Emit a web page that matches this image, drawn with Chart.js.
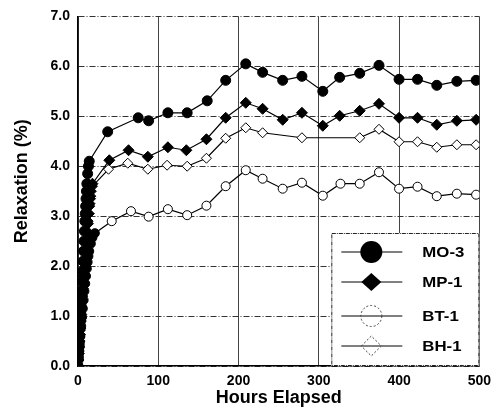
<!DOCTYPE html>
<html>
<head>
<meta charset="utf-8">
<script src="https://cdn.jsdelivr.net/npm/chart.js@4/dist/chart.umd.min.js"></script>
<style>
  html, body { margin: 0; padding: 0; background: #fff; }
  canvas { display: block; }
</style>
</head>
<body>
<canvas id="c" width="498" height="409"></canvas>
<script>
// ---- Data ----
const seriesNames = ['MO-3', 'MP-1', 'BT-1', 'BH-1'];

const mo3Hours = [0, 0.5, 1, 1.5, 2, 2.5, 3, 3.5, 4, 4.5, 5, 5.5, 6, 6.5, 7, 7.5, 8, 8.5, 9, 9.5, 10, 10.5, 11, 12, 13, 14,
  37, 75, 88, 112, 136, 161, 184, 209, 230, 255, 279, 305, 326, 351, 375, 400, 423, 447, 472, 496];
const mo3Values = [0, 0.15, 0.3, 0.45, 0.6, 0.75, 0.9, 1.05, 1.2, 1.35, 1.5, 1.7, 1.9, 2.1, 2.3, 2.5, 2.7, 2.9, 3.05, 3.2, 3.35, 3.5, 3.65, 3.85, 4.0, 4.1,
  4.69, 4.97, 4.91, 5.07, 5.07, 5.31, 5.72, 6.05, 5.88, 5.72, 5.80, 5.50, 5.78, 5.86, 6.02, 5.74, 5.74, 5.62, 5.70, 5.72];

const mp1Hours = [0, 0.5, 1, 1.5, 2, 2.5, 3, 3.5, 4, 4.5, 5, 6, 7, 8, 9, 10, 11, 12, 13, 14, 15, 16, 18,
  39, 63, 87, 112, 135, 160, 184, 209, 230, 255, 279, 305, 326, 351, 375, 400, 423, 447, 472, 496];
const mp1Values = [0, 0.12, 0.25, 0.38, 0.5, 0.63, 0.76, 0.9, 1.03, 1.16, 1.3, 1.55, 1.8, 2.05, 2.3, 2.5, 2.7, 2.9, 3.05, 3.2, 3.35, 3.5, 3.65,
  4.12, 4.32, 4.19, 4.38, 4.32, 4.54, 4.97, 5.27, 5.15, 4.93, 5.07, 4.81, 5.01, 5.11, 5.25, 4.97, 4.97, 4.83, 4.91, 4.93];

const bt1Hours = [0, 0.5, 1, 1.5, 2, 3, 4, 5, 6, 7, 8, 9, 10, 11, 12, 13, 14, 16, 18, 21,
  42, 66, 88, 112, 136, 160, 184, 209, 230, 255, 279, 305, 327, 351, 375, 400, 423, 447, 472, 496];
const bt1Values = [0, 0.1, 0.2, 0.3, 0.4, 0.6, 0.8, 0.98, 1.15, 1.32, 1.5, 1.65, 1.8, 1.95, 2.08, 2.2, 2.3, 2.45, 2.57, 2.66,
  2.90, 3.10, 2.99, 3.14, 3.02, 3.21, 3.60, 3.92, 3.75, 3.55, 3.67, 3.41, 3.65, 3.65, 3.88, 3.55, 3.59, 3.40, 3.45, 3.43];

const bh1Hours = [0, 0.5, 1, 1.5, 2, 3, 4, 5, 6, 7, 8, 9, 10, 11, 12, 13, 14, 15, 16, 18,
  38, 62, 87, 111, 136, 160, 184, 209, 230, 279, 351, 375, 400, 423, 447, 472, 496];
const bh1Values = [0, 0.12, 0.24, 0.36, 0.48, 0.72, 0.95, 1.18, 1.4, 1.62, 1.84, 2.05, 2.25, 2.45, 2.65, 2.85, 3.05, 3.25, 3.4, 3.6,
  3.94, 4.06, 3.94, 4.02, 4.00, 4.16, 4.56, 4.77, 4.67, 4.57, 4.57, 4.74, 4.49, 4.49, 4.38, 4.43, 4.43];

const xTickLabels = ['0', '100', '200', '300', '400', '500'];
const yTickLabels = ['0.0', '1.0', '2.0', '3.0', '4.0', '5.0', '6.0', '7.0'];

// ---- Build ----
function pts(h, v) { return h.map((x, i) => ({ x: x, y: v[i] })); }

const FONT = '"Liberation Sans", Arial, sans-serif';

// open markers inside the dense start-up cluster print as solid black in the reference
const openFill = (c) => (c.raw && c.raw.x < 22 && c.raw.y > 0.5) ? '#000' : '#fff';

const datasets = [
  { label: seriesNames[0], data: pts(mo3Hours, mo3Values), pointStyle: 'circle', pointRadius: 5,
    pointBackgroundColor: '#000' },
  { label: seriesNames[1], data: pts(mp1Hours, mp1Values), pointStyle: 'rectRot', pointRadius: 5.5,
    pointBackgroundColor: '#000' },
  { label: seriesNames[2], data: pts(bt1Hours, bt1Values), pointStyle: 'circle', pointRadius: 4.5,
    pointBackgroundColor: openFill },
  { label: seriesNames[3], data: pts(bh1Hours, bh1Values), pointStyle: 'rectRot', pointRadius: 5,
    pointBackgroundColor: openFill }
].map(d => Object.assign(d, {
  showLine: true, borderWidth: 1.2, borderColor: '#000', backgroundColor: '#000',
  pointBorderColor: '#000', pointBorderWidth: 1, fill: false, tension: 0
}));

const legendPlugin = {
  id: 'boxLegend',
  afterDatasetsDraw(chart) {
    const ctx = chart.ctx, a = chart.chartArea;
    const L = a.right - 148, T = a.bottom - 133, R = a.right, B = a.bottom;
    ctx.save();
    ctx.fillStyle = '#fff';
    ctx.fillRect(L, T, R - L, B - T);
    ctx.strokeStyle = '#222';
    ctx.lineWidth = 1;
    ctx.setLineDash([4, 1, 1, 1]);
    ctx.strokeRect(L + 0.5, T + 0.5, R - L - 1, B - T - 1);
    ctx.setLineDash([]);
    const rows = [19, 49, 83, 113];
    rows.forEach((dy, i) => {
      const y = T + dy, cx = L + 40;
      ctx.strokeStyle = '#000';
      ctx.lineWidth = 1;
      ctx.beginPath(); ctx.moveTo(L + 10, y); ctx.lineTo(L + 71, y); ctx.stroke();
      ctx.beginPath();
      if (i === 0) {
        ctx.arc(cx, y, 11, 0, Math.PI * 2);
        ctx.fillStyle = '#000'; ctx.fill();
      } else if (i === 1) {
        ctx.moveTo(cx - 10, y); ctx.lineTo(cx, y - 9); ctx.lineTo(cx + 10, y); ctx.lineTo(cx, y + 9); ctx.closePath();
        ctx.fillStyle = '#000'; ctx.fill();
      } else if (i === 2) {
        ctx.setLineDash([2, 2]);
        ctx.arc(cx, y, 10.5, 0, Math.PI * 2);
        ctx.strokeStyle = '#444'; ctx.stroke();
        ctx.setLineDash([]);
      } else {
        ctx.setLineDash([2, 2]);
        ctx.moveTo(cx - 10, y); ctx.lineTo(cx, y - 10); ctx.lineTo(cx + 10, y); ctx.lineTo(cx, y + 10); ctx.closePath();
        ctx.strokeStyle = '#444'; ctx.stroke();
        ctx.setLineDash([]);
      }
      ctx.save();
      ctx.translate(L + 91, y);
      ctx.scale(1.2, 1);
      ctx.fillStyle = '#000';
      ctx.font = 'bold 14px ' + FONT;
      ctx.textBaseline = 'middle';
      ctx.fillText(seriesNames[i], 0, 1);
      ctx.restore();
    });
    ctx.restore();
  }
};

new Chart(document.getElementById('c'), {
  type: 'scatter',
  data: { datasets: datasets },
  plugins: [legendPlugin],
  options: {
    responsive: false,
    animation: false,
    layout: { padding: { left: 0, right: 18, top: 11, bottom: 0 } },
    plugins: { legend: { display: false }, tooltip: { enabled: false } },
    scales: {
      x: {
        type: 'linear', min: 0, max: 500,
        ticks: { stepSize: 100, color: '#000', padding: 7, maxRotation: 0,
          font: { family: FONT, size: 14, weight: 'bold' },
          callback: (v) => xTickLabels[Math.round(v / 100)] },
        grid: { color: '#444', lineWidth: 1, drawTicks: false },
        border: { display: true, color: '#000', width: 1.5 },
        title: { display: true, text: 'Hours Elapsed', color: '#000',
          font: { family: FONT, size: 18, weight: 'bold' }, padding: { top: 0, bottom: 0 } },
        afterFit: (s) => { s.height = 43; }
      },
      y: {
        min: 0, max: 7,
        ticks: { stepSize: 1, color: '#000', padding: 8,
          font: { family: FONT, size: 14, weight: 'bold' },
          callback: (v) => yTickLabels[Math.round(v)] },
        grid: { color: '#333', lineWidth: 1, drawTicks: false },
        border: { display: true, color: '#000', width: 1.5, dash: [6, 2, 1, 2] },
        title: { display: true, text: '    Relaxation (%)', color: '#000',
          font: { family: FONT, size: 18, weight: 'bold' }, padding: { top: 11, bottom: 0 } },
        afterFit: (s) => { s.width = 78; }
      }
    }
  }
});
</script>
</body>
</html>
